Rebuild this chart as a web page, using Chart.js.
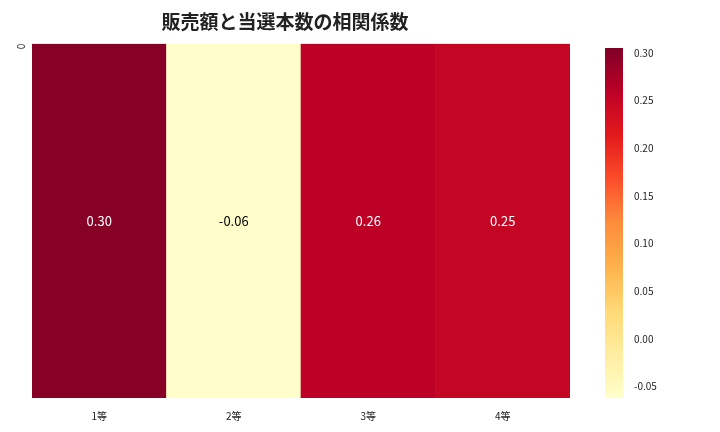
<!DOCTYPE html>
<html><head><meta charset="utf-8">
<script src="https://cdn.jsdelivr.net/npm/chart.js@4"></script>
<style>body{margin:0;width:720px;height:432px;background:#fff;overflow:hidden}
#a{position:absolute;left:0;top:0;width:590px;height:432px}
#b{position:absolute;left:590px;top:0;width:130px;height:432px}</style>
</head><body>
<div id="a"><canvas id="c1"></canvas></div>
<div id="b"><canvas id="c2"></canvas></div>
<script>
const categories=['1等','2等','3等','4等'];
const rowLabels=['0'];
const values=[0.30,-0.06,0.26,0.25];
const vmin=-0.062, vmax=0.305;
const cbTicks=[-0.05,0,0.05,0.10,0.15,0.20,0.25,0.30];
const stops=['#ffffcc','#ffeda0','#fed976','#feb24c','#fd8d3c','#fc4e2a','#e31a1c','#bd0026','#800026'];
function hex(h){return [1,3,5].map(i=>parseInt(h.substr(i,2),16));}
function cmap(v){let t=Math.max(0,Math.min(1,(v-vmin)/(vmax-vmin)))*(stops.length-1);
 let i=Math.min(Math.floor(t),stops.length-2),f=t-i;let a=hex(stops[i]),b=hex(stops[i+1]);
 return 'rgb('+a.map((x,k)=>Math.round(x+(b[k]-x)*f)).join(',')+')';}
const F='"Noto Sans CJK JP","Noto Sans",sans-serif';
const labelPlugin={id:'lbl',afterDatasetsDraw(ch){const ctx=ch.ctx;const m=ch.getDatasetMeta(0);
 ctx.save();ctx.font='13px '+F;ctx.textAlign='center';ctx.textBaseline='middle';
 m.data.forEach((el,i)=>{const v=values[i];ctx.fillStyle=((v-vmin)/(vmax-vmin))>0.5?'#fff':'#000';
 ctx.fillText(v.toFixed(2),el.x,(el.y+el.base)/2);});ctx.restore();}};
new Chart(document.getElementById('c1'),{type:'bar',
 data:{labels:categories,datasets:[{data:values.map(()=>1),backgroundColor:values.map(cmap),categoryPercentage:1,barPercentage:1,borderWidth:0}]},
 options:{responsive:true,maintainAspectRatio:false,animation:false,
  layout:{padding:{left:0,right:20,top:0,bottom:0}},
  plugins:{legend:{display:false},tooltip:{enabled:false},
   title:{display:true,text:'販売額と当選本数の相関係数',font:{family:F,size:19,weight:'bold'},color:'#222',padding:{top:10,bottom:11}}},
  scales:{x:{grid:{display:false,drawTicks:true},border:{display:false},ticks:{font:{family:F,size:10},color:'#222',padding:4},afterFit(s){s.height=34;}},
   y:{min:0,max:1,display:false},
   y2:{type:'category',labels:rowLabels,position:'left',grid:{display:false},border:{display:false},
    ticks:{font:{family:F,size:10},color:'#222',maxRotation:90,minRotation:90},afterFit(s){s.width=32;}}}},
 plugins:[labelPlugin]});
new Chart(document.getElementById('c2'),{type:'bar',
 data:{labels:['c'],datasets:[{data:[[vmin,vmax]],categoryPercentage:1,barPercentage:1,borderWidth:0,
  backgroundColor(ctx){const a=ctx.chart.chartArea;if(!a)return '#800026';const g=ctx.chart.ctx.createLinearGradient(0,a.bottom,0,a.top);
   stops.forEach((c,i)=>g.addColorStop(i/(stops.length-1),c));return g;}}]},
 options:{responsive:true,maintainAspectRatio:false,animation:false,
  layout:{padding:{left:15,top:48,bottom:34,right:0}},
  plugins:{legend:{display:false},tooltip:{enabled:false}},
  scales:{x:{display:false},
   y:{position:'right',min:vmin,max:vmax,grid:{display:false},border:{display:false},
    afterBuildTicks(s){s.ticks=cbTicks.map(v=>({value:v}));},
    ticks:{font:{family:F,size:10},color:'#222',callback:v=>v.toFixed(2)},afterFit(s){s.width=97;}}}}});
</script></body></html>
